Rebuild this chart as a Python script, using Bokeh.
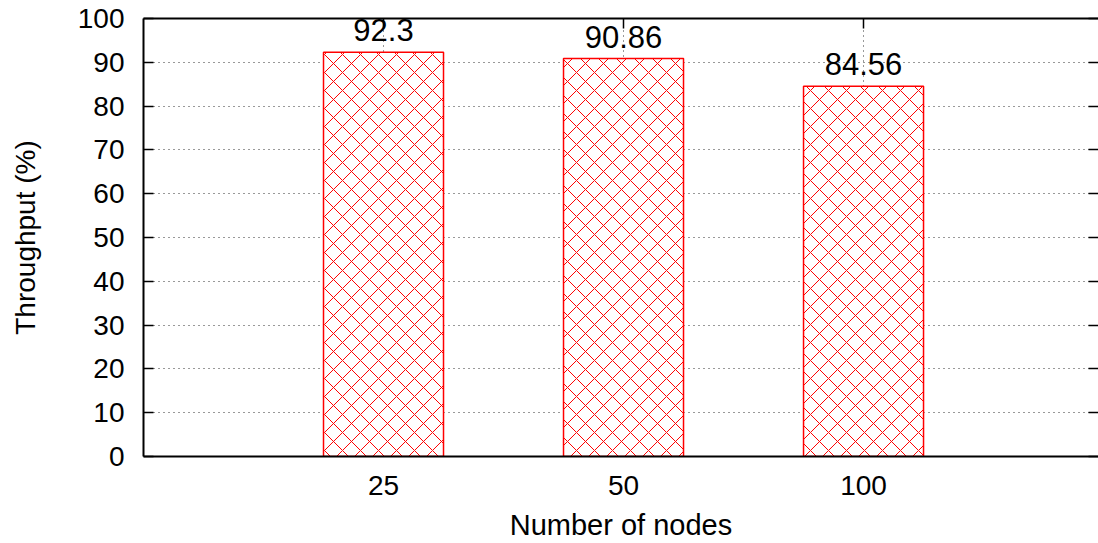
from bokeh.plotting import figure
from bokeh.models import ColumnDataSource, FixedTicker, LinearAxis, Range1d, LabelSet
from bokeh.core.properties import value
from bokeh.embed import file_html
from bokeh.resources import INLINE

# ---- data ----
categories = ["25", "50", "100"]
throughput = [92.3, 90.86, 84.56]
bar_labels = ["92.3", "90.86", "84.56"]
y_ticks = [0, 10, 20, 30, 40, 50, 60, 70, 80, 90, 100]

x_pos = list(range(len(categories)))
src = ColumnDataSource(dict(x=x_pos, top=throughput, label=bar_labels))

FONT = "Liberation Sans"
FS = "28px"

p = figure(width=1098, height=543, output_backend="svg", toolbar_location=None,
           x_range=Range1d(-1, 2.979), y_range=Range1d(0, 100),
           min_border_left=143, min_border_top=18, min_border_right=0, min_border_bottom=10)
p.outline_line_color = None
p.background_fill_color = "white"
p.border_fill_color = "white"

# bars
p.vbar(x="x", top="top", width=0.5, bottom=0, source=src,
       fill_color="white", line_color="#ff0000", line_width=1.5,
       hatch_pattern="x", hatch_color="#ff0000", hatch_scale=18, hatch_weight=1)

# value labels
labels = LabelSet(x="x", y="top", text="label", source=src, text_align="center",
                  text_baseline="alphabetic", y_offset=11,
                  text_font=value(FONT), text_font_size=value("31px"),
                  text_color=value("black"))
p.add_layout(labels)

# axes
xa = p.xaxis[0]
xa.ticker = FixedTicker(ticks=x_pos)
xa.major_label_overrides = {i: c for i, c in zip(x_pos, categories)}
xa.axis_label = "Number of nodes"
xa.major_tick_in = 0
xa.major_tick_out = 0
xa.minor_tick_line_color = None
xa.major_label_standoff = 19
xa.axis_label_standoff = 11
ya = p.yaxis[0]
ya.ticker = FixedTicker(ticks=y_ticks)
ya.axis_label = "Throughput (%)"
ya.major_tick_in = 10
ya.major_tick_out = 0
ya.minor_tick_line_color = None
ya.major_label_standoff = 19
ya.axis_label_standoff = 34

for ax in (xa, ya):
    ax.axis_line_width = 2
    ax.axis_line_color = "black"
    ax.major_tick_line_width = 1.5
    ax.major_tick_line_color = "black"
    ax.major_label_text_font = FONT
    ax.major_label_text_font_size = FS
    ax.major_label_text_color = "black"
    ax.axis_label_text_font = FONT
    ax.axis_label_text_font_size = FS
    ax.axis_label_text_font_style = "normal"
    ax.axis_label_text_color = "black"
xa.axis_label_text_font_size = "29px"

# top border with mirror ticks
top = LinearAxis(ticker=FixedTicker(ticks=x_pos), major_tick_in=10, major_tick_out=0,
                 major_label_text_font_size="0px", major_label_standoff=0,
                 minor_tick_line_color=None, axis_line_width=2, axis_line_color="black",
                 major_tick_line_width=1.5)
top.major_label_overrides = {i: "" for i in x_pos}
p.add_layout(top, "above")

# right mirror ticks (border itself lies beyond the visible area)
right = LinearAxis(ticker=FixedTicker(ticks=y_ticks), major_tick_in=10, major_tick_out=0,
                   major_label_text_font_size="0px", major_label_standoff=0,
                   minor_tick_line_color=None, axis_line_color=None,
                   major_tick_line_width=1.5)
right.major_label_overrides = {t: "" for t in y_ticks}
p.add_layout(right, "right")

# grids (dotted)
for g in (p.xgrid[0], p.ygrid[0]):
    g.grid_line_color = "#333333"
    g.grid_line_dash = "1 4"
    g.grid_line_width = 1
p.xgrid[0].ticker = FixedTicker(ticks=x_pos)
p.ygrid[0].ticker = FixedTicker(ticks=y_ticks)

open("out.html", "w").write(file_html(p, INLINE))
